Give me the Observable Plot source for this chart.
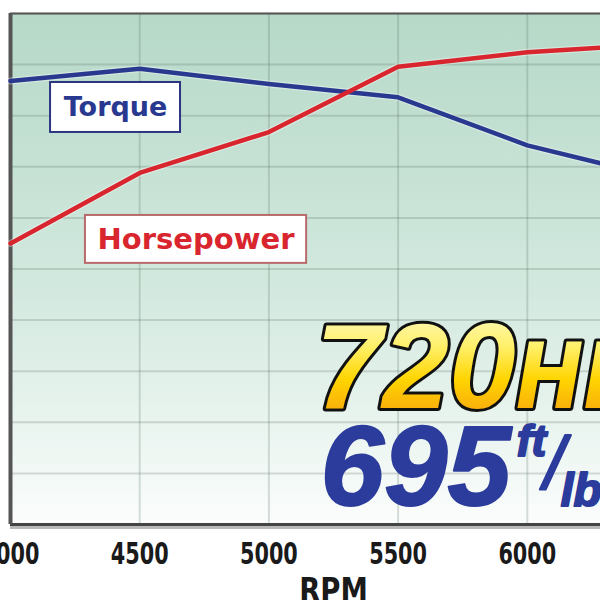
<!DOCTYPE html>
<html>
<head>
<meta charset="utf-8">
<script src="https://cdn.jsdelivr.net/npm/d3@7"></script>
<script src="https://cdn.jsdelivr.net/npm/@observablehq/plot@0.6"></script>
<style>
  html, body { margin: 0; padding: 0; background: #ffffff; overflow: hidden; }
  #wrap { position: relative; width: 600px; height: 600px; overflow: hidden; }
  #wrap svg { position: absolute; left: -50px; top: 0; max-width: none !important; width: 716px; height: 600px; }
</style>
</head>
<body>
<div id="wrap"></div>
<script>
// ---- data ----
const rpm        = [4000, 4500, 5000, 5500, 6000, 6500];
const torque     = [684, 696, 681, 668, 621, 590];
const horsepower = [525, 594, 634, 698, 712, 720];
const seriesNames = ["Torque", "Horsepower"];
const xTicks = [4000, 4500, 5000, 5500, 6000, 6500];
const yGrid  = [250, 300, 350, 400, 450, 500, 550, 600, 650, 700, 750];
const axisTitle = "RPM";
const peakHP = "720";
const peakHPUnit = "HP";
const peakTorque = "695";
const torqueUnitTop = "ft";
const torqueUnitBottom = "lb";

// label placements, in data units
const labelBoxes = [
  {name: "Torque",     x1: 4155, x2: 4658, y1: 633.6, y2: 682.5},
  {name: "Horsepower", x1: 4290, x2: 5146, y1: 505.5, y2: 552.4}
];
const badgeHP = {rpm: 5180, value: 363.6};
const badgeTq = {rpm: 5200, value: 269};

// ---- derived table ----
const rows = [
  ...rpm.map((r, i) => ({rpm: r, value: torque[i], series: seriesNames[0]})),
  ...rpm.map((r, i) => ({rpm: r, value: horsepower[i], series: seriesNames[1]}))
];
const boxes = labelBoxes.map(b => ({...b, cx: (b.x1 + b.x2) / 2, cy: (b.y1 + b.y2) / 2}));

const defsMark = () => {
  const defs = d3.create("svg:defs");
  const bg = defs.append("linearGradient").attr("id", "bgGrad")
    .attr("x1", 0).attr("y1", 0).attr("x2", 0).attr("y2", 1);
  bg.append("stop").attr("offset", "0%").attr("stop-color", "#b6d9c8");
  bg.append("stop").attr("offset", "55%").attr("stop-color", "#d3e9df");
  bg.append("stop").attr("offset", "100%").attr("stop-color", "#fbfdfc");
  const gold = defs.append("linearGradient").attr("id", "goldGrad")
    .attr("x1", 0).attr("y1", 0).attr("x2", 0).attr("y2", 1);
  gold.append("stop").attr("offset", "0%").attr("stop-color", "#fffbd6");
  gold.append("stop").attr("offset", "35%").attr("stop-color", "#fff06a");
  gold.append("stop").attr("offset", "60%").attr("stop-color", "#ffd400");
  gold.append("stop").attr("offset", "100%").attr("stop-color", "#f59216");
  return defs.node();
};

const gridStyle = {stroke: "#51695d", strokeOpacity: 0.22, strokeWidth: 2};
const narrowFont = "Liberation Sans Narrow, DejaVu Sans Condensed, sans-serif";

const chart = Plot.plot({
  width: 716,
  height: 600,
  marginLeft: 60,
  marginRight: 10,
  marginTop: 13,
  marginBottom: 76,
  x: {domain: [4000, 6500], axis: null},
  y: {domain: [250, 750], axis: null},
  color: {domain: seriesNames, range: ["#2a3990", "#d9262e"]},
  style: {background: "transparent", overflow: "visible", maxWidth: "none"},
  marks: [
    defsMark,
    Plot.frame({fill: "url(#bgGrad)", stroke: "none"}),
    Plot.gridX(xTicks, gridStyle),
    Plot.gridY(yGrid, gridStyle),
    // frame borders
    Plot.ruleY([yGrid[0]], {stroke: "#8a8a8a", strokeWidth: 3, strokeOpacity: 0.6, dy: 3}),
    Plot.ruleY([yGrid[0]], {stroke: "#444", strokeWidth: 3}),
    Plot.ruleY([yGrid[yGrid.length - 1]], {stroke: "#555", strokeWidth: 2}),
    Plot.ruleX([xTicks[0]], {stroke: "#555", strokeWidth: 4}),
    // curves
    Plot.line(rows, {x: "rpm", y: "value", z: "series", stroke: "#ffffff", strokeWidth: 7, strokeOpacity: 0.35}),
    Plot.line(rows, {x: "rpm", y: "value", z: "series", stroke: "series", strokeWidth: 4.5}),
    // label boxes
    Plot.rect(boxes, {x1: "x1", x2: "x2", y1: "y1", y2: "y2", fill: "#ffffff",
      stroke: d => d.name === seriesNames[0] ? "#2b3580" : "#b96a6a", strokeWidth: 2}),
    Plot.text(boxes, {x: "cx", y: "cy", text: "name", fill: "name",
      fontFamily: "DejaVu Sans", fontWeight: "bold",
      fontSize: d => d.name === seriesNames[0] ? 27 : 29}),
    // big badges
    Plot.text([badgeHP], {x: "rpm", y: "value", text: () => peakHP,
      textAnchor: "start", lineAnchor: "bottom",
      fontFamily: "Liberation Sans", fontWeight: "bold", fontStyle: "italic", fontSize: 120,
      fill: "url(#goldGrad)", stroke: "#111", strokeWidth: 6, strokeLinejoin: "round",
      paintOrder: "stroke"}),
    Plot.text([badgeTq], {x: "rpm", y: "value", text: () => peakTorque,
      textAnchor: "start", lineAnchor: "bottom",
      fontFamily: "Liberation Sans", fontWeight: "bold", fontStyle: "italic", fontSize: 114,
      fill: "#2c3c9c", stroke: "#2c3c9c", strokeWidth: 2}),
    // x axis
    Plot.axisX(xTicks, {tickSize: 0, tickPadding: 18, tickFormat: d => `${d}`, label: null,
      fontSize: 30, fontWeight: "bold", fontFamily: narrowFont, fill: "#1a1a1a"}),
    Plot.text([axisTitle], {frameAnchor: "bottom", lineAnchor: "top", dy: 53,
      fontSize: 34, fontWeight: "bold", fontFamily: narrowFont, fill: "#1a1a1a"})
  ]
});

const svg = d3.select(chart);
const byText = t => svg.selectAll("text").filter(function () { return this.textContent === t; });

// narrow the axis lettering horizontally
const squeeze = (sel, k) => sel.attr("transform", function () {
  return (this.getAttribute("transform") || "") + ` scale(${k},1)`;
});
xTicks.forEach(t => squeeze(byText(`${t}`), 0.77));
squeeze(byText(axisTitle), 0.9);

// superscript/subscript units on the badges
const hpText = byText(peakHP);
hpText.append("tspan").text(peakHPUnit)
  .attr("font-family", narrowFont)
  .attr("font-size", 90).attr("dx", 0);
const tqText = byText(peakTorque);
tqText.append("tspan").text(torqueUnitTop).attr("font-size", 44).attr("dx", 6).attr("dy", -49);
tqText.append("tspan").text("/").attr("font-size", 74).attr("font-weight", "normal").attr("dx", -2).attr("dy", 33);
tqText.append("tspan").text(torqueUnitBottom).attr("font-size", 46).attr("dx", -4).attr("dy", 17);

document.getElementById("wrap").appendChild(chart);
</script>
</body>
</html>
